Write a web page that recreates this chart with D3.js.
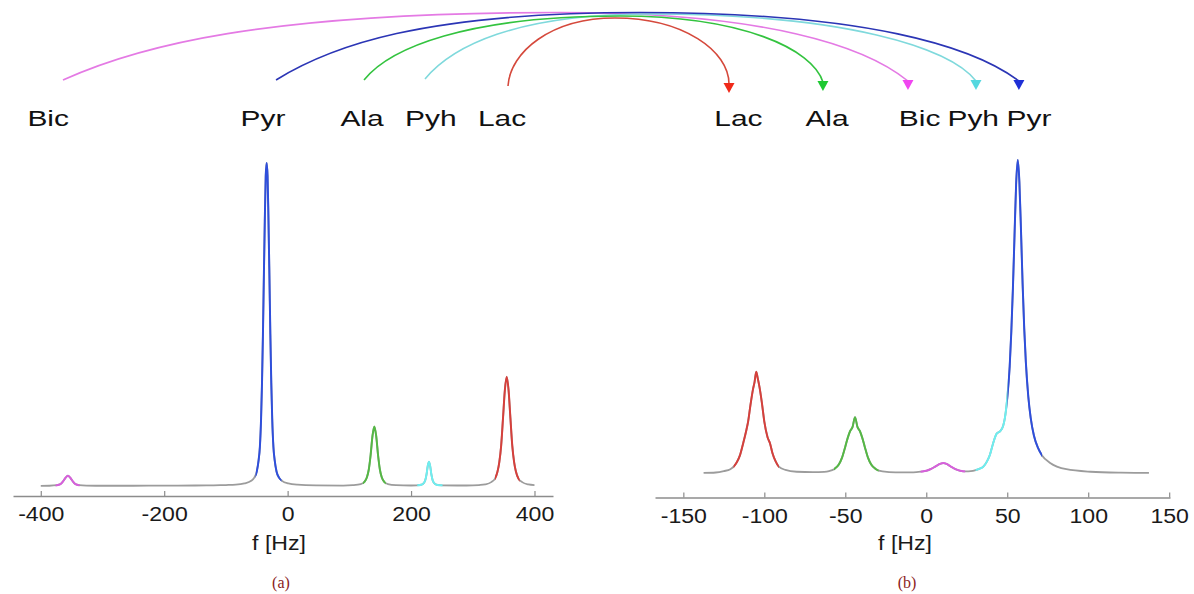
<!DOCTYPE html>
<html>
<head>
<meta charset="utf-8">
<script src="https://cdn.jsdelivr.net/npm/d3@7"></script>
<style>
  html, body { margin: 0; padding: 0; background: #fff; }
  svg { display: block; }
</style>
</head>
<body>
<svg id="chart" width="1194" height="594"></svg>
<script>
// ---- spectra: [frequency (Hz), signal (a.u., pyruvate peak = 100)] ----
const spectrumA = [
  [-400, 0.05], [-386, 0.08], [-374, 0.25], [-368, 0.6], [-364, 1.4], [-360, 2.5],
  [-356, 3.2], [-352, 2.5], [-348, 1.4], [-344, 0.6], [-338, 0.25], [-326, 0.1],
  [-300, 0.07], [-250, 0.08], [-200, 0.1], [-150, 0.15], [-120, 0.22], [-100, 0.3],
  [-84, 0.4], [-70, 0.8], [-59, 1.6], [-54, 2.6], [-50, 4.5], [-47, 8], [-45, 12],
  [-43, 21], [-41.5, 32], [-40, 47], [-38.5, 65], [-37, 82], [-35.5, 96], [-34, 100],
  [-32.5, 96], [-31, 82], [-29.5, 65], [-28, 47], [-26.5, 32], [-25, 21], [-23, 12],
  [-21, 8], [-18, 4.5], [-14, 2.6], [-9, 1.6], [1, 0.8], [16, 0.4], [46, 0.18],
  [90, 0.12], [105.5, 0.25], [118.5, 0.6], [124.5, 1.3], [128.5, 2.7], [131.5, 5.1],
  [134.5, 9.6], [137.5, 15.5], [140.5, 18.4], [143.5, 15.5], [146.5, 9.6], [149.5, 5.1],
  [152.5, 2.7], [156.5, 1.3], [162.5, 0.6], [175.5, 0.25], [200, 0.15], [209, 0.2],
  [217, 0.4], [221, 1.0], [223, 1.8], [225, 3.5], [227, 6.15], [229, 7.5], [231, 6.15],
  [233, 3.5], [235, 1.8], [237, 1.0], [241, 0.4], [250, 0.2], [290, 0.15],
  [310, 0.3], [320, 0.5], [330, 1.2], [336, 2.3], [340, 4.4], [343, 7.4], [346, 12.5],
  [349, 21], [352, 29.7], [355, 33.8], [358, 29.7], [361, 21], [364, 12.5], [367, 7.4],
  [370, 4.4], [374, 2.3], [380, 1.2], [390, 0.5], [400, 0.3]
];

const spectrumB = [
  [-137.5, 0.12], [-130, 0.25], [-125, 0.7], [-121, 1.3], [-119, 2.1], [-117, 3.5],
  [-115, 5.8], [-113, 9.7], [-111, 14], [-110, 16.5], [-108.5, 22], [-107, 26.8],
  [-106, 29.2], [-105, 32.4], [-104, 30.2], [-103, 27.6], [-101.5, 22.5], [-100, 16.5],
  [-98, 11.5], [-96.5, 9.6], [-95, 6.5], [-93, 3.8], [-91, 2.1], [-87, 1.1],
  [-80, 0.5], [-70, 0.35], [-63, 0.45], [-60, 0.7], [-57, 1.3], [-54, 2.8],
  [-52, 5.0], [-50, 8.5], [-48.5, 11.3], [-47, 13.5], [-45.5, 14.8], [-44, 17.9],
  [-42.5, 14.8], [-41, 13.5], [-39.5, 11.3], [-38, 8.5], [-36, 5.0], [-34, 2.8],
  [-31, 1.3], [-27, 0.6], [-19, 0.3], [-8, 0.3], [-3, 0.55], [0, 0.8], [3, 1.4],
  [6, 2.3], [8.5, 3.0], [10.5, 3.25], [12.5, 3.0], [15, 2.2], [18, 1.35], [21, 0.8],
  [24.5, 0.6], [27.5, 0.7], [30, 0.95], [33, 1.5], [35.2, 2.1], [37.5, 3.8],
  [39.3, 5.9], [41.3, 9.6], [43.4, 12.6], [45.5, 13.4], [47.5, 15.2], [48.5, 17.5],
  [50, 24], [51.5, 34], [52.5, 45], [53.5, 59], [54.5, 76], [55.5, 92.5],
  [56.5, 100], [57.5, 93], [58.5, 77.4], [59.5, 60.3], [60.5, 46.1], [61.5, 35.4],
  [63, 24.5], [64.5, 17.6], [66.5, 12], [69, 8.1], [71.5, 5.7], [76.5, 3.3],
  [86.5, 1.3], [101.5, 0.5], [120, 0.2], [137.5, 0.12]
];

// ---- frequency band of each metabolite resonance (Hz) ----
const bandsA = [
  { name: 'Bic', from: -376, to: -337 },
  { name: 'Pyr', from: -52, to: -10 },
  { name: 'Ala', from: 122, to: 159 },
  { name: 'Pyh', from: 210, to: 251 },
  { name: 'Lac', from: 336, to: 376 }
];
const bandsB = [
  { name: 'Lac', from: -119, to: -91 },
  { name: 'Ala', from: -57, to: -29.5 },
  { name: 'Bic', from: -3.5, to: 24 },
  { name: 'Pyh', from: 30.5, to: 50.2 },
  { name: 'Pyr', from: 50.2, to: 71.5 }
];

// ---- axis ticks ----
const ticksA = [-400, -200, 0, 200, 400];
const ticksB = [-150, -100, -50, 0, 50, 100, 150];

// ---- metabolite labels (left row in panel (a) Hz, right row in panel (b) Hz) ----
const namesLeft = ['Bic', 'Pyr', 'Ala', 'Pyh', 'Lac'];
const labelHzLeft = [-388, -40, 120.5, 232, 347.5];
const namesRight = ['Lac', 'Ala', 'Bic', 'Pyh', 'Pyr'];
const labelHzRight = [-116, -61.3, -4.1, 29, 63.4];

// ---- arcs: from a resonance label in (a) to the same metabolite in (b) ----
const arcOrder = ['Bic', 'Pyh', 'Ala', 'Lac', 'Pyr'];
const arcFromHz = { Bic: -364, Pyr: -18.8, Ala: 123.8, Pyh: 222.6, Lac: 357.1 };
const arcToHz = { Lac: -121.8, Ala: -63.8, Bic: -11.3, Pyh: 30.7, Pyr: 57.2 };

// ---- styling ----
const lineColor = { Bic: '#d75fdc', Pyr: '#2f4fdc', Ala: '#55b845', Pyh: '#6eeef0', Lac: '#d6403c' };
const arcColor = { Bic: '#e47ae4', Pyr: '#2b35b5', Ala: '#33c33f', Pyh: '#7fd9dc', Lac: '#d5493c' };
const headColor = { Bic: '#f046f0', Pyr: '#1f2fd6', Ala: '#1ec932', Pyh: '#55d8df', Lac: '#f02a1a' };
// apex: fraction of the way from start to end; top: apex height; k/m: tilt of the start/end
const arcShape = {
  Bic: { apex: 0.588, top: 12.5, y0: 80, tip: 90, k: 0.15, m: 0.12 },
  Pyr: { apex: 0.49, top: 12.5, y0: 80, tip: 90, k: 0.15, m: 0.12 },
  Ala: { apex: 0.558, top: 16, y0: 80, tip: 91, k: 0.10, m: 0.05 },
  Pyh: { apex: 0.408, top: 14, y0: 79, tip: 90, k: 0.12, m: 0.08 },
  Lac: { apex: 0.484, top: 18, y0: 86, tip: 93, k: 0.02, m: 0.0 }
};
const grey = '#9c9c9c';
const sans = '"Liberation Sans", Arial, Helvetica, sans-serif';

const svg = d3.select('#chart');
svg.append('rect').attr('width', 1194).attr('height', 594).attr('fill', '#fff');

// ---- scales ----
const xA = d3.scaleLinear().domain([-445, 430]).range([13, 553]);
const yA = d3.scaleLinear().domain([0, 100]).range([486, 163]);
const xB = d3.scaleLinear().domain([-167.5, 150.5]).range([655, 1170]);
const yB = d3.scaleLinear().domain([0, 100]).range([473.3, 160]);

const defs = svg.append('defs');

function drawPanel(id, data, bands, x, y, ticks, axisY, labelY, axisLabelX, tag, tagX) {
  const line = d3.line()
    .x(d => x(d[0]))
    .y(d => y(d[1]))
    .curve(d3.curveMonotoneX);
  const g = svg.append('g');

  // grey trace
  g.append('path')
    .attr('d', line(data))
    .attr('fill', 'none')
    .attr('stroke', grey)
    .attr('stroke-width', 1.8)
    .attr('stroke-linejoin', 'round');

  // coloured resonances
  bands.forEach((b, i) => {
    const cid = `clip-${id}-${i}`;
    defs.append('clipPath').attr('id', cid)
      .append('rect')
      .attr('x', x(b.from)).attr('width', x(b.to) - x(b.from))
      .attr('y', 0).attr('height', 594);
    g.append('path')
      .attr('d', line(data))
      .attr('fill', 'none')
      .attr('stroke', lineColor[b.name])
      .attr('stroke-width', 2)
      .attr('stroke-linejoin', 'round')
      .attr('clip-path', `url(#${cid})`);
  });

  // axis
  const axis = d3.axisBottom(x)
    .tickValues(ticks)
    .tickSizeInner(-5)
    .tickSizeOuter(0)
    .tickPadding(0)
    .tickFormat(d => String(d));
  const ag = svg.append('g')
    .attr('transform', `translate(0,${axisY})`)
    .call(axis);
  ag.select('.domain').attr('stroke', '#8c8c8c').attr('stroke-width', 1.5);
  ag.selectAll('.tick line').attr('stroke', '#8c8c8c').attr('stroke-width', 1.2);
  ag.selectAll('.tick text')
    .attr('y', labelY - axisY)
    .attr('dy', null)
    .attr('fill', '#1a1a1a')
    .attr('font-family', sans)
    .attr('font-size', 21)
    .attr('transform', 'scale(1.1,1)');

  svg.append('text')
    .attr('transform', `translate(${axisLabelX},550) scale(1.1,1)`)
    .attr('text-anchor', 'middle')
    .attr('font-family', sans)
    .attr('font-size', 21)
    .attr('fill', '#1a1a1a')
    .text('f [Hz]');

  svg.append('text')
    .attr('x', tagX).attr('y', 588)
    .attr('text-anchor', 'middle')
    .attr('font-family', '"Liberation Serif", "Times New Roman", serif')
    .attr('font-size', 16)
    .attr('fill', '#8b1c1c')
    .text(tag);
}

drawPanel('a', spectrumA, bandsA, xA, yA, ticksA, 496, 521.5, 279, '(a)', 281);
drawPanel('b', spectrumB, bandsB, xB, yB, ticksB, 497.5, 523.5, 905, '(b)', 907);

// ---- arcs between the two label rows ----
const arcs = svg.append('g');
arcOrder.forEach(name => {
  const s = arcShape[name];
  const x0 = xA(arcFromHz[name]);
  const x1 = xB(arcToHz[name]);
  const xt = x0 + s.apex * (x1 - x0);
  const yEnd = s.tip - 9;
  const rx1 = xt - x0, rx2 = x1 - xt;
  const p = d3.path();
  p.moveTo(x0, s.y0);
  p.bezierCurveTo(x0 + s.k * rx1, s.y0 - 0.5 * (s.y0 - s.top), xt - 0.6 * rx1, s.top, xt, s.top);
  p.bezierCurveTo(xt + 0.6 * rx2, s.top, x1 - s.m * rx2, yEnd - 0.5 * (yEnd - s.top), x1, yEnd);
  arcs.append('path')
    .attr('d', p.toString())
    .attr('fill', 'none')
    .attr('stroke', arcColor[name])
    .attr('stroke-width', 1.6);
  arcs.append('path')
    .attr('d', `M${x1 - 5.5},${s.tip - 10}L${x1 + 5.5},${s.tip - 10}L${x1},${s.tip}Z`)
    .attr('fill', headColor[name]);
});

// ---- metabolite labels ----
function labelRow(names, hz, x) {
  svg.append('g').selectAll('text')
    .data(names)
    .join('text')
    .attr('transform', (d, i) => `translate(${x(hz[i])},126) scale(1.36,1)`)
    .attr('text-anchor', 'middle')
    .attr('font-family', sans)
    .attr('font-size', 22)
    .attr('fill', '#111')
    .text(d => d);
}
labelRow(namesLeft, labelHzLeft, xA);
labelRow(namesRight, labelHzRight, xB);
</script>
</body>
</html>
